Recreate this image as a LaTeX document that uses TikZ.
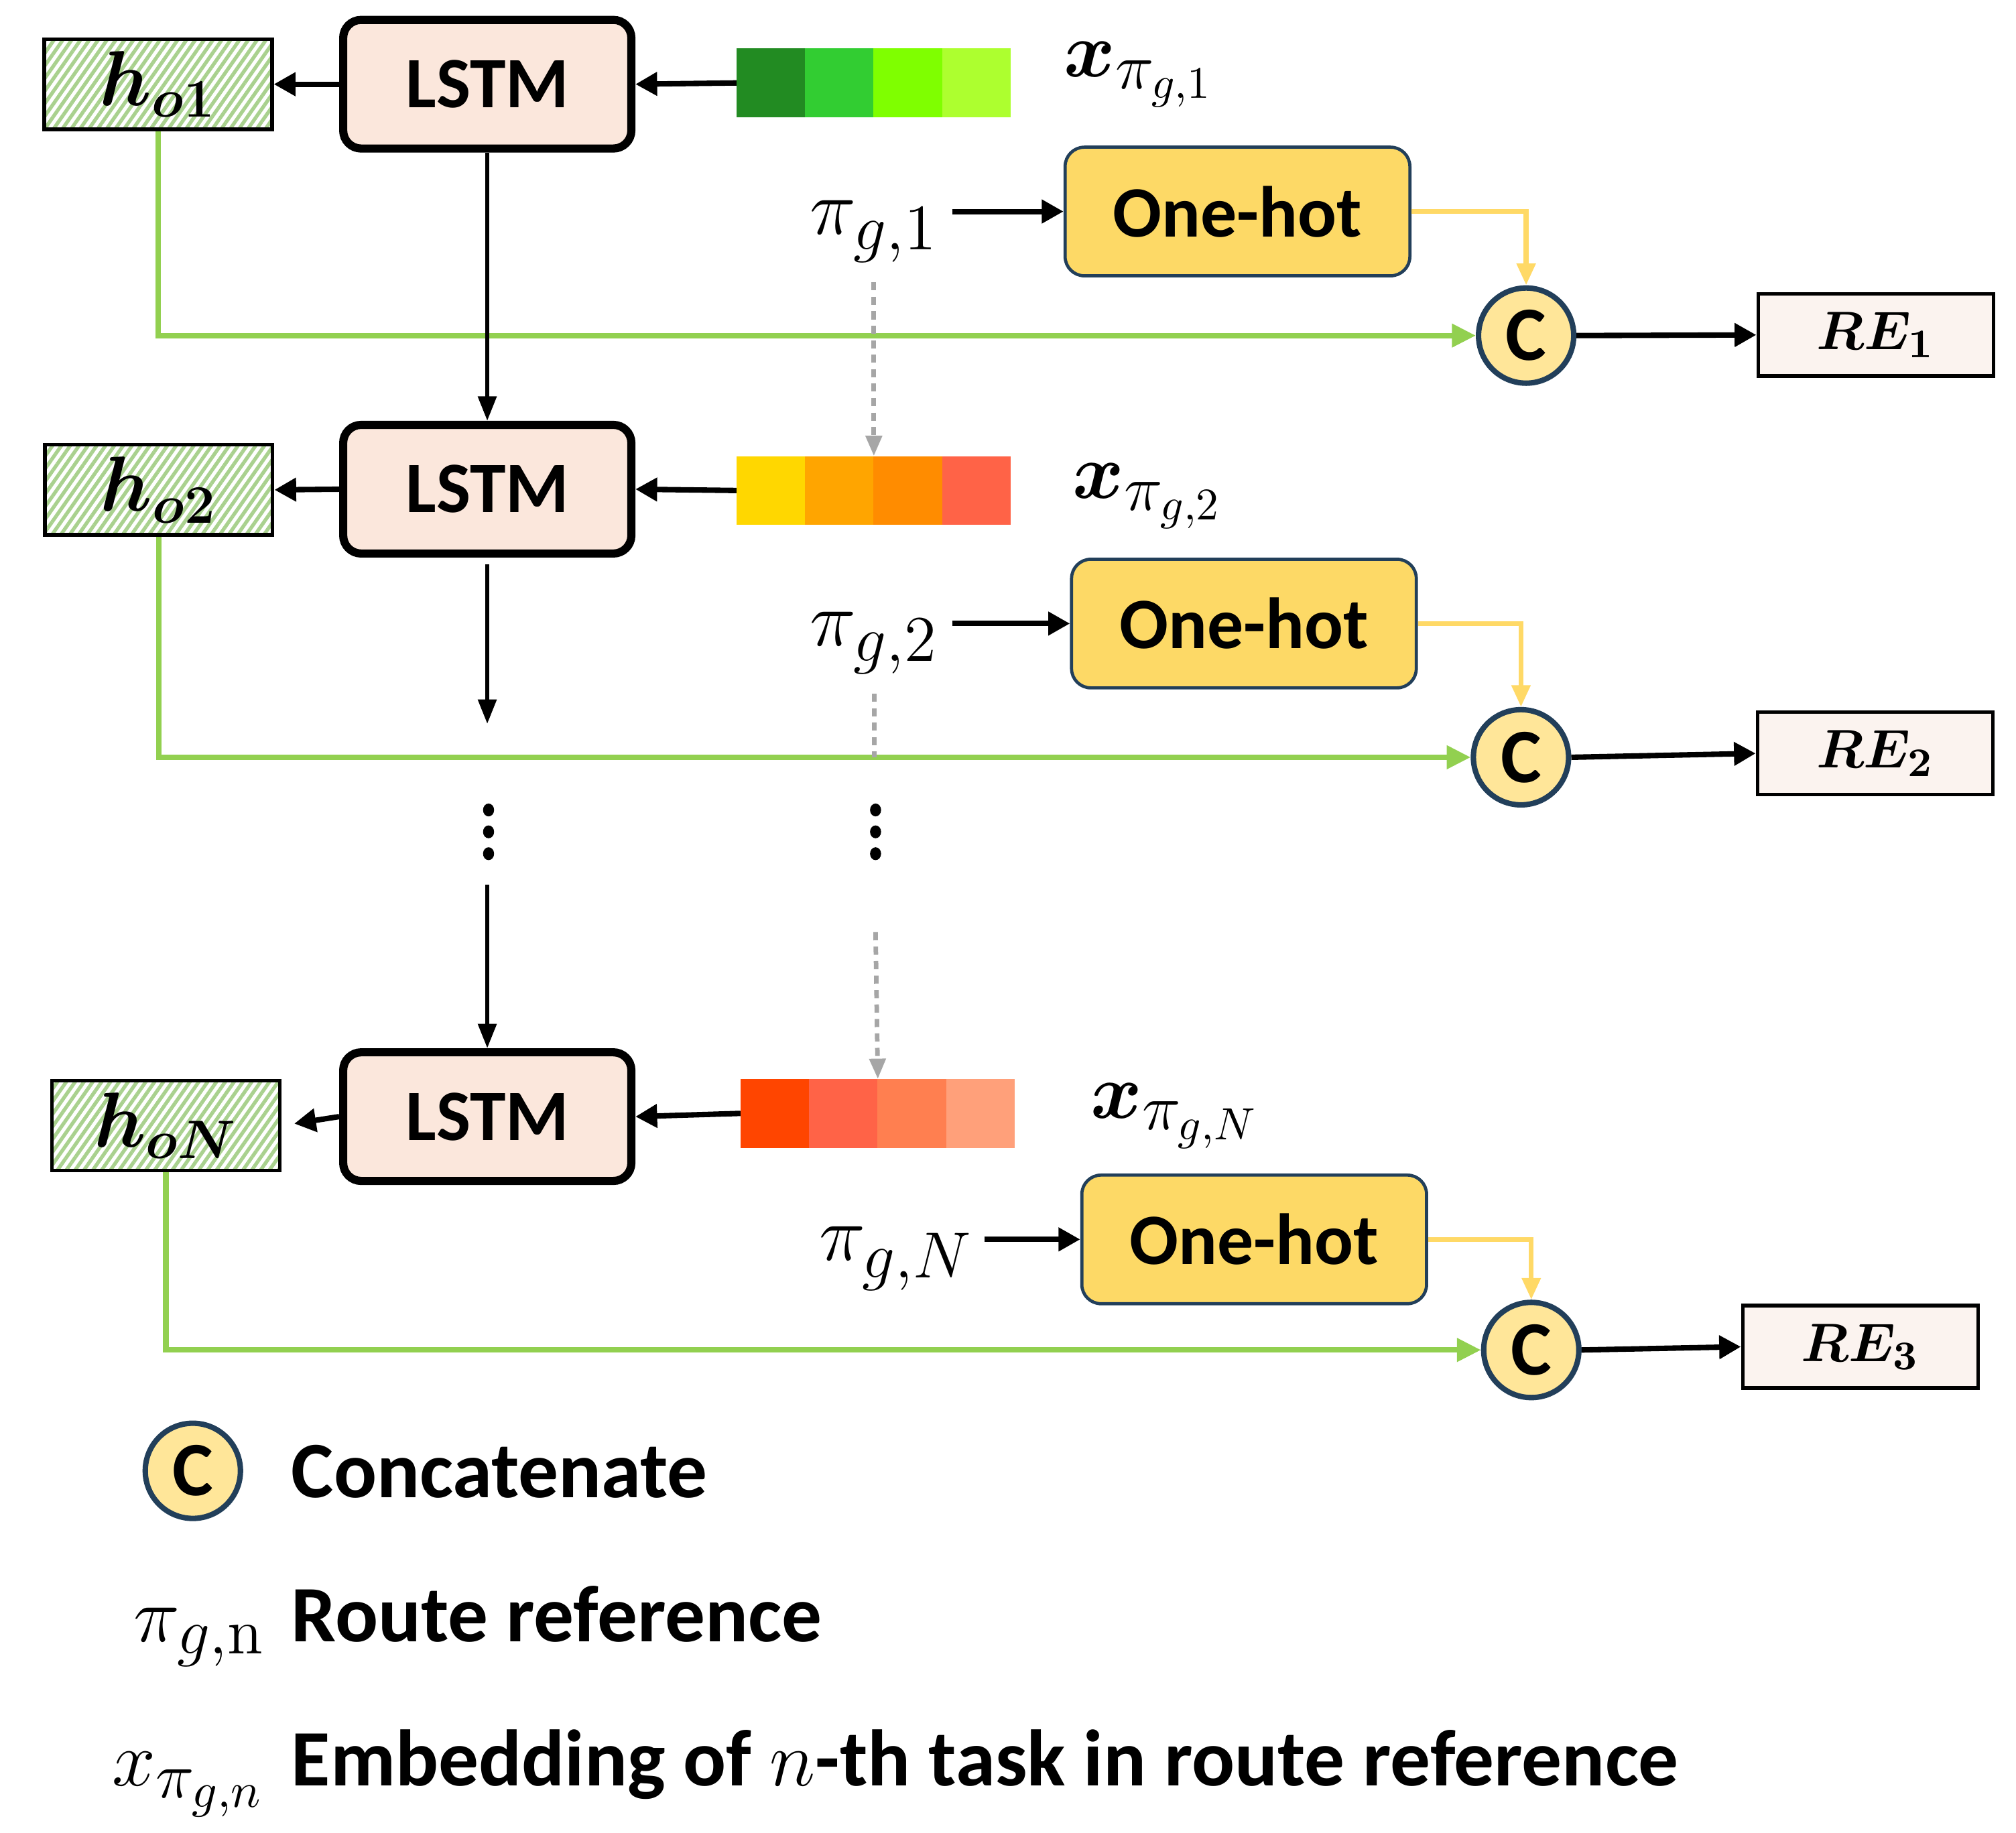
\documentclass[tikz,border=0pt]{standalone}
\usepackage{bm}
\usepackage[no-math]{fontspec}
\setmainfont{Carlito}
\renewcommand{\defaultscriptratio}{.74}
\renewcommand{\defaultscriptscriptratio}{.56}
\usetikzlibrary{arrows.meta,patterns.meta}
\definecolor{lstmfill}{HTML}{FBE7DC}
\definecolor{refill}{HTML}{FBF3EF}
\definecolor{hotfill}{HTML}{FDD966}
\definecolor{catfill}{HTML}{FFE699}
\definecolor{bordblue}{HTML}{223F5A}
\definecolor{hgreen}{HTML}{A9D18E}
\definecolor{lgreen}{HTML}{92D050}
\definecolor{lgold}{HTML}{FFD966}
\definecolor{dgray}{HTML}{A6A6A6}
\definecolor{embA1}{HTML}{228B22}
\definecolor{embA2}{HTML}{32CD32}
\definecolor{embA3}{HTML}{7FFF00}
\definecolor{embA4}{HTML}{ADFF2F}
\definecolor{embB1}{HTML}{FFD700}
\definecolor{embB2}{HTML}{FFA500}
\definecolor{embB3}{HTML}{FF8C00}
\definecolor{embB4}{HTML}{FF6347}
\definecolor{embC1}{HTML}{FF4500}
\definecolor{embC2}{HTML}{FF6347}
\definecolor{embC3}{HTML}{FF7F50}
\definecolor{embC4}{HTML}{FFA07A}
\begin{document}
\begin{tikzpicture}[x=0.01cm,y=-0.01cm,
	lstm/.style={draw,line width=1.8pt,rounded corners=0.14cm,fill=lstmfill,minimum width=2.24cm,minimum height=1.0cm,font=\fontsize{16}{19}\selectfont\bfseries},
	hout/.style={draw,line width=0.8pt,pattern={Lines[angle=55,distance=1.6pt,line width=0.8pt]},pattern color=hgreen,minimum width=1.77cm,minimum height=0.70cm,inner sep=0pt,font=\fontsize{16.5}{19}\selectfont},
	cell/.style={minimum width=0.535cm,minimum height=0.535cm,inner sep=0pt,outer sep=0pt},
	onehot/.style={draw=bordblue,line width=0.7pt,rounded corners=0.15cm,fill=hotfill,minimum width=2.68cm,minimum height=1.0cm,font=\fontsize{16}{19}\selectfont\bfseries},
	concat/.style={circle,draw=bordblue,line width=1.2pt,fill=catfill,minimum size=0.74cm,inner sep=0pt,font=\fontsize{17}{19}\selectfont\bfseries},
	rebox/.style={draw,line width=0.8pt,fill=refill,minimum width=1.83cm,minimum height=0.64cm,font=\fontsize{12.5}{14}\selectfont},
	mlab/.style={inner sep=0pt,font=\fontsize{18}{20}\selectfont},
	legtext/.style={inner sep=0pt,anchor=base west,font=\fontsize{17.7}{20}\selectfont\bfseries},
	arr/.style={-{Triangle[length=4.8pt,width=5pt]},line width=1.2pt},
	downarr/.style={-{Triangle[length=5.4pt,width=4pt]},line width=0.9pt},
	greenarr/.style={-{Triangle[length=5.3pt,width=5pt]},draw=lgreen,line width=1.2pt},
	goldarr/.style={-{Triangle[length=4.8pt,width=4pt]},draw=lgold,line width=1.1pt},
	grayline/.style={draw=dgray,line width=1pt,dash pattern=on 1.8pt off 1.4pt},
	grayarr/.style={grayline,-{Triangle[length=4.5pt,width=3.5pt]}}]
	\useasboundingbox (0,0) rectangle (1568,1425.2);
	\fill[color=white] (0,0) rectangle (1568,1425.2);
	\node[hout] (ho1) at (123,65.5) {$\bm{h}_{\bm{o1}}$};
	\node[lstm] (lstm1) at (379,65.5) {LSTM};
	\foreach \c [count=\i] in {embA1,embA2,embA3,embA4}
		\node[cell,fill=\c] (e1-\i) at (546.3+53.3*\i,64.5) {};
	\node[mlab] (x1) at (886,58) {$\bm{x}_{\pi_{g,1}}$};
	\node[mlab] (pi1) at (680,180) {$\pi_{g,1}$};
	\node[onehot] (oh1) at (962.5,164.5) {One-hot};
	\node[concat] (c1) at (1187,261) {C};
	\node[rebox] (re1) at (1459,260.5) {$\bm{RE}_{\bm{1}}$};
	\node[hout] (ho2) at (123.5,381) {$\bm{h}_{\bm{o2}}$};
	\node[lstm] (lstm2) at (379,380.5) {LSTM};
	\foreach \c [count=\i] in {embB1,embB2,embB3,embB4}
		\node[cell,fill=\c] (e2-\i) at (546.3+53.3*\i,381.5) {};
	\node[mlab] (x2) at (893,386) {$\bm{x}_{\pi_{g,2}}$};
	\node[mlab] (pi2) at (680,500) {$\pi_{g,2}$};
	\node[onehot] (oh2) at (967.5,485) {One-hot};
	\node[concat] (c2) at (1183,589) {C};
	\node[rebox] (re2) at (1458.5,586) {$\bm{RE}_{\bm{2}}$};
	\coordinate (d2) at (379,563);
	\coordinate (u3) at (379,688);
	\coordinate (g3) at (681,725);
	\node[hout] (hoN) at (129,875.5) {$\bm{h}_{\bm{oN}}$};
	\node[lstm] (lstm3) at (379,868.5) {LSTM};
	\foreach \c [count=\i] in {embC1,embC2,embC3,embC4}
		\node[cell,fill=\c] (e3-\i) at (549.4+53.3*\i,866) {};
	\node[mlab] (xN) at (914,868) {$\bm{x}_{\pi_{g,N}}$};
	\node[mlab] (piN) at (697,979) {$\pi_{g,N}$};
	\node[onehot] (oh3) at (975.5,964) {One-hot};
	\node[concat] (c3) at (1191,1050) {C};
	\node[rebox] (re3) at (1447,1047.5) {$\bm{RE}_{\bm{3}}$};
	\draw[greenarr] (ho1.south) |- (c1.west);
	\draw[greenarr] (ho2.south) |- (c2.west);
	\draw[greenarr] (hoN.south) |- (c3.west);
	\draw[goldarr] (oh1.east) -| (c1.north);
	\draw[goldarr] (oh2.east) -| (c2.north);
	\draw[goldarr] (oh3.east) -| (c3.north);
	\draw[arr] (lstm1.west) -- (ho1.east);
	\draw[arr] (lstm2.west) -- (ho2.east);
	\draw[arr,shorten >=0.1cm] (lstm3.west) -- (hoN.east);
	\draw[arr] (e1-1.west) -- (lstm1.east);
	\draw[arr] (e2-1.west) -- (lstm2.east);
	\draw[arr] (e3-1.west) -- (lstm3.east);
	\draw[arr,shorten <=0.1cm] (pi1.east |- oh1.west) -- (oh1.west);
	\draw[arr,shorten <=0.1cm] (pi2.east |- oh2.west) -- (oh2.west);
	\draw[arr,shorten <=0.08cm] (piN.east |- oh3.west) -- (oh3.west);
	\draw[arr] (c1.east) -- (re1.west);
	\draw[arr] (c2.east) -- (re2.west);
	\draw[arr] (c3.east) -- (re3.west);
	\draw[downarr] (lstm1.south) -- (lstm2.north);
	\draw[downarr,shorten <=0.05cm] (lstm2.south) -- (d2);
	\draw[downarr] (u3) -- (lstm3.north);
	\draw[grayarr,shorten <=0.15cm] (e2-2.north east |- pi1.south) -- (e2-2.north east);
	\draw[grayline,shorten <=0.15cm] (pi2.south) -- (pi2.south |- c2.west);
	\draw[grayarr] (g3) -- (e3-2.north east);
	\foreach \y in {630,647,664} {
		\fill (380,\y) ellipse[x radius=0.043cm,y radius=0.05cm];
		\fill (681,\y) ellipse[x radius=0.043cm,y radius=0.05cm];
	}
	\node[concat] (lc) at (150,1144) {C};
	\node[legtext] (lcat) at (226,1165) {Concatenate};
	\node[mlab,anchor=base east] (lpi) at (207,1277) {$\pi_{g,\mathrm{n}}$};
	\node[legtext] (lroute) at (226,1277) {Route reference};
	\node[mlab,anchor=base east,font=\fontsize{19}{21}\selectfont] (lx) at (207,1389) {$x_{\pi_{g,n}}$};
	\node[legtext] (lemb) at (226,1389) {Embedding of $n$-th task in route reference};
\end{tikzpicture}
\end{document}
